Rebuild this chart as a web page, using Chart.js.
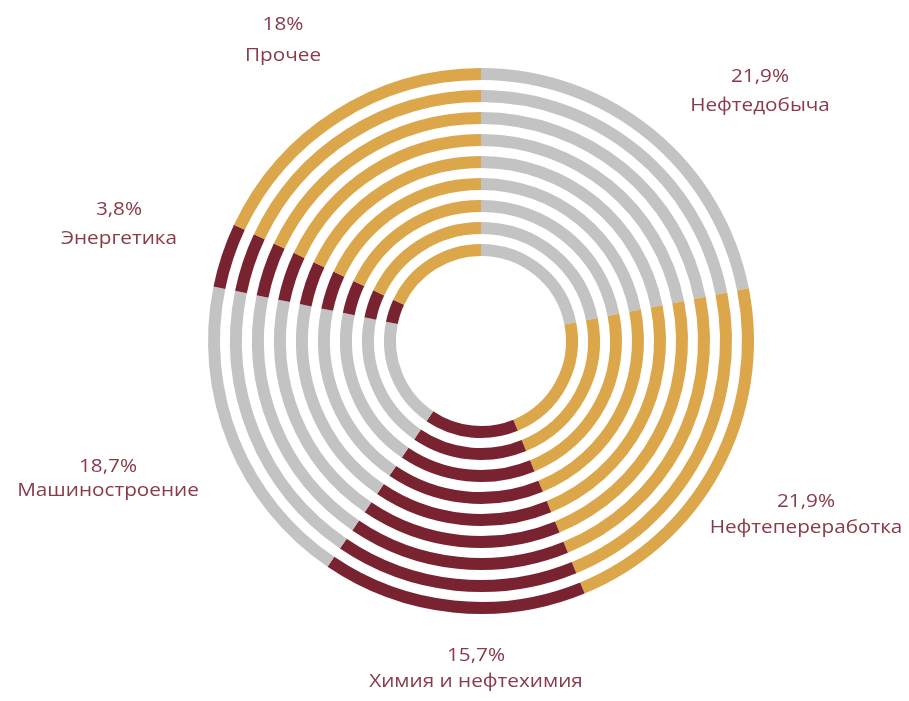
<!DOCTYPE html>
<html>
<head>
<meta charset="utf-8">
<script src="https://cdn.jsdelivr.net/npm/chart.js@4/dist/chart.umd.min.js"></script>
<style>
html, body { margin: 0; padding: 0; background: #fff; }
#wrap { width: 909px; height: 701px; }
</style>
</head>
<body>
<div id="wrap"><canvas id="myChart" width="909" height="701"></canvas></div>
<script>
// industry breakdown, shares in percent, clockwise from 12 o'clock
var sectors = ['Нефтедобыча', 'Нефтепереработка', 'Химия и нефтехимия', 'Машиностроение', 'Энергетика', 'Прочее'];
var shares = [21.9, 21.9, 15.7, 18.7, 3.8, 18];
var shareLabels = ['21,9%', '21,9%', '15,7%', '18,7%', '3,8%', '18%'];
var sectorColors = ['#c3c3c3', '#dca64b', '#7a2330', '#c3c3c3', '#7a2330', '#dca64b'];
var ringCount = 9;

// centre of each two-line caption: x, y of the percent line, y of the name line
var captionSpots = [
    [760, 77, 106],
    [806, 502, 528],
    [476, 656, 682],
    [108, 467, 491],
    [119, 210, 239],
    [283, 25, 56]
];

var datasets = [];
for (var i = 0; i < ringCount; i++) {
    datasets.push({
        data: shares,
        backgroundColor: sectorColors,
        borderWidth: 0,
        weight: 12
    });
    // empty band between rings
    if (i < ringCount - 1) {
        datasets.push({
            data: [1],
            backgroundColor: 'rgba(0,0,0,0)',
            borderWidth: 0,
            weight: 10
        });
    }
}

var captions = {
    id: 'captions',
    afterDraw: function(chart) {
        var ctx = chart.ctx;
        ctx.fillStyle = '#8a3a48';
        ctx.textAlign = 'center';
        ctx.textBaseline = 'middle';
        ctx.font = '18px "Open Sans"';
        for (var i = 0; i < sectors.length; i++) {
            var s = captionSpots[i];
            // slightly wide lettering
            ctx.save();
            ctx.translate(s[0], 0);
            ctx.scale(1.15, 1);
            ctx.fillText(shareLabels[i], 0, s[1]);
            ctx.fillText(sectors[i], 0, s[2]);
            ctx.restore();
        }
    }
};

var ctx = document.getElementById('myChart').getContext('2d');
var ringChart = new Chart(ctx, {
    type: 'doughnut',
    data: {
        labels: sectors,
        datasets: datasets
    },
    options: {
        responsive: false,
        animation: false,
        cutout: 85,
        layout: {
            padding: { left: 208, right: 155, top: 68, bottom: 87 }
        },
        plugins: {
            legend: { display: false },
            tooltip: { enabled: false }
        }
    },
    plugins: [captions]
});
</script>
</body>
</html>
